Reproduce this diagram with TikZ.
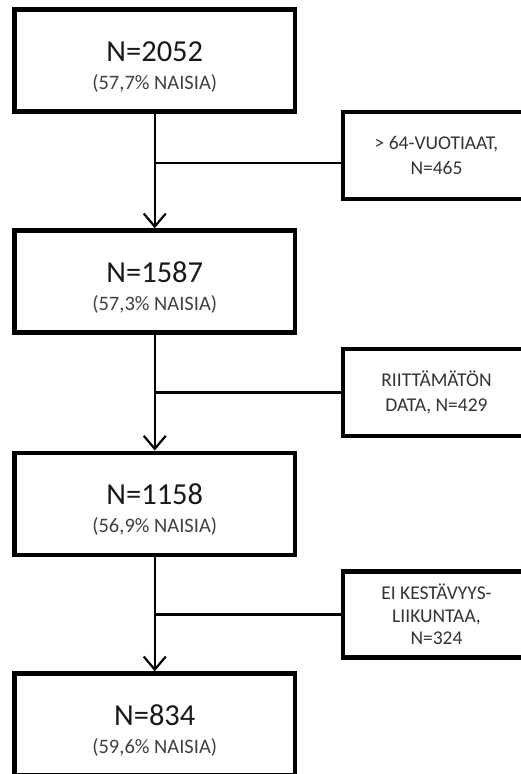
\documentclass[tikz,border=0pt]{standalone}
\usepackage{fontspec}
\setmainfont{Carlito}
\usetikzlibrary{arrows.meta,calc}
\begin{document}
\begin{tikzpicture}[x=1pt,y=-1pt,
  mainbox/.style={draw=black, line width=4.5pt, minimum width=280.5pt, minimum height=102pt, inner sep=0pt},
  sidebox/.style={draw=black, line width=4.5pt, minimum width=187pt, minimum height=87pt, inner sep=0pt, align=center, font=\fontsize{19.5}{25}\selectfont, text=black!80},
  numtext/.style={anchor=base, font=\fontsize{30.5}{36}\selectfont, text=black!90, inner sep=0pt},
  subtext/.style={anchor=base, font=\fontsize{20.5}{24}\selectfont, text=black!75, inner sep=0pt},
  conn/.style={line width=2.2pt},
  flow/.style={conn, -{Straight Barb[length=13pt,width=22pt]}}]
\useasboundingbox (0,0) rectangle (521,774);
\clip (0,0) rectangle (521,774);
% main boxes
\node[mainbox] (b1) at (154.75,60.5) {};
\node[mainbox] (b2) at (154.75,281.5) {};
\node[mainbox] (b3) at (154.75,503.75) {};
\node[mainbox] (b4) at (154.75,724.5) {};
\node[numtext] (t1) at ($(b1.center)+(0,1)$) {N=2052};
\node[subtext] (u1) at ($(b1.center)+(0,29)$) {(57,7\% NAISIA)};
\node[numtext] (t2) at ($(b2.center)+(0,1)$) {N=1587};
\node[subtext] (u2) at ($(b2.center)+(0,29)$) {(57,3\% NAISIA)};
\node[numtext] (t3) at ($(b3.center)+(0,1)$) {N=1158};
\node[subtext] (u3) at ($(b3.center)+(0,29)$) {(56,9\% NAISIA)};
\node[numtext] (t4) at ($(b4.center)+(0,1)$) {N=834};
\node[subtext] (u4) at ($(b4.center)+(0,29)$) {(59,6\% NAISIA)};
% side boxes
\node[sidebox] (s1) at (436.5,155.6) {> 64-VUOTIAAT,\\N=465};
\node[sidebox] (s2) at (436.5,392.5) {RIITTÄMÄTÖN\\DATA, N=429};
\node[sidebox, minimum height=86pt, font=\fontsize{19.5}{22.5}\selectfont] (s3) at (436.5,614.5) {EI KESTÄVYYS-\\LIIKUNTAA,\\N=324};
% connectors
\draw[flow] (b1.south) -- (b2.north);
\draw[flow] (b2.south) -- (b3.north);
\draw[flow] (b3.south) -- (b4.north);
\coordinate (j1) at (154.75,163);
\draw[conn] (j1) -- (j1 -| s1.west);
\draw[conn] (b2.south |- s2.west) -- (s2.west);
\draw[conn] (b3.south |- s3.west) -- (s3.west);
\end{tikzpicture}
\end{document}
